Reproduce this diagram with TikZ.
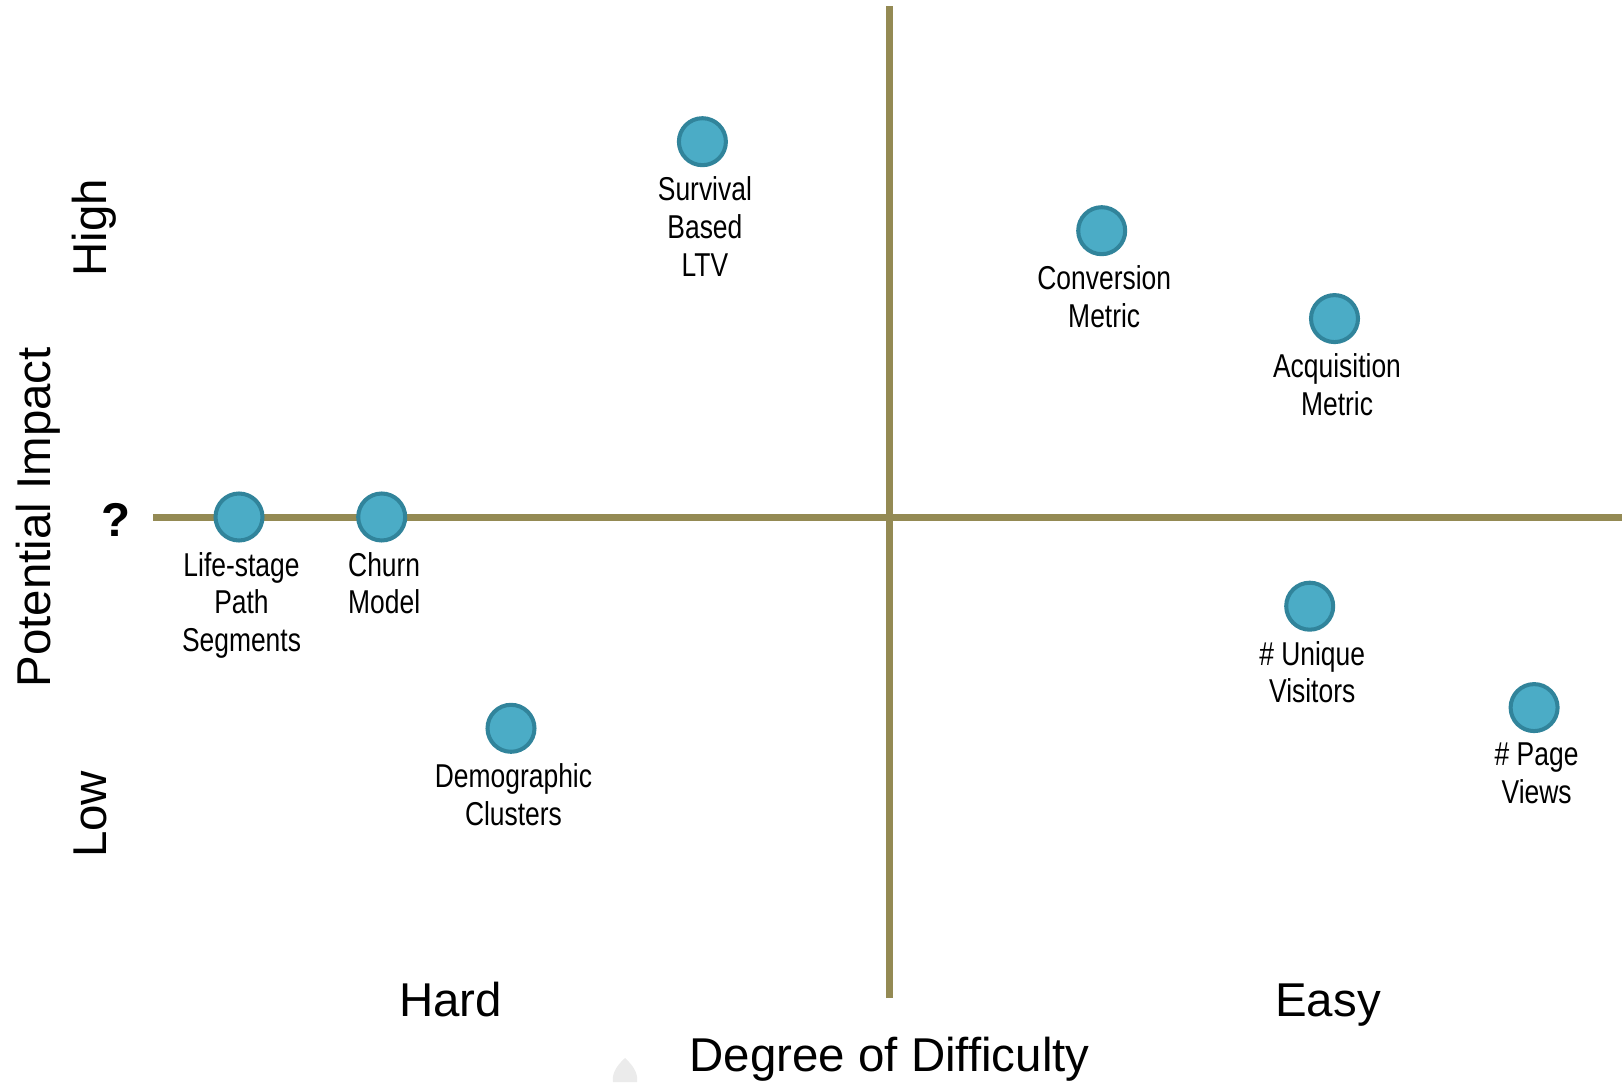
\documentclass[tikz,border=0pt]{standalone}
\usepackage{fontspec}
\setmainfont{Liberation Sans}
\newfontfamily\narrowfont[FakeStretch=0.8]{Liberation Sans}
\usetikzlibrary{positioning}

\definecolor{axisolive}{HTML}{948A54}
\definecolor{dotfill}{HTML}{4BACC6}
\definecolor{dotedge}{HTML}{31849B}

\begin{document}
\begin{tikzpicture}[
        axisline/.style={draw=axisolive, line width=2pt},
        item/.style={circle, draw=dotedge, fill=dotfill, line width=1.15pt, minimum size=0.47cm, inner sep=0pt},
        itemlabel/.style={inner sep=0pt, align=center, xshift=0.025cm, font=\narrowfont\fontsize{9.4pt}{10.7pt}\selectfont},
        axistitle/.style={inner sep=0pt, anchor=base, font=\fontsize{13.5pt}{16pt}\selectfont}
    ]
        \useasboundingbox (0,0) rectangle (16.22,10.82);
        % quadrant axes
        \draw[axisline] (8.895,0.84) -- (8.895,10.76);
        \draw[axisline] (1.53,5.645) -- (16.22,5.645);
        % axis titles
        \node[axistitle] (xtitle) at (8.895,0.11) {Degree of Difficulty};
        \node[axistitle] (hard) at (4.505,0.66) {Hard};
        \node[axistitle] (easy) at (13.28,0.66) {Easy};
        \node[axistitle, rotate=90] (ytitle) at (0.50,5.647) {Potential Impact};
        \node[axistitle, rotate=90] (high) at (1.067,8.545) {High};
        \node[axistitle, rotate=90] (low) at (1.067,2.677) {Low};
        \node[axistitle, font=\bfseries\fontsize{13.5pt}{16pt}\selectfont] (unknown) at (1.155,5.45) {?};
        % faint mark at the bottom
        \fill[black!8] (6.25,0.24) .. controls (6.36,0.14) and (6.38,0.06) .. (6.37,0) -- (6.13,0) .. controls (6.12,0.06) and (6.14,0.14) .. (6.25,0.24);
        % items
        \node[item] (surv) at (7.024,9.403) {};
        \node[item] (conv) at (11.017,8.513) {};
        \node[item] (acq) at (13.345,7.634) {};
        \node[item] (life) at (2.39,5.65) {};
        \node[item] (churn) at (3.817,5.65) {};
        \node[item] (demo) at (5.11,3.537) {};
        \node[item] (uniq) at (13.097,4.758) {};
        \node[item] (page) at (15.341,3.744) {};
        \node[itemlabel, below=0.09cm of surv] (surv-l) {Survival\\Based\\LTV};
        \node[itemlabel, below=0.09cm of conv] (conv-l) {Conversion\\Metric};
        \node[itemlabel, below=0.09cm of acq] (acq-l) {Acquisition\\Metric};
        \node[itemlabel, below=0.09cm of life] (life-l) {Life-stage\\Path\\Segments};
        \node[itemlabel, below=0.09cm of churn] (churn-l) {Churn\\Model};
        \node[itemlabel, below=0.09cm of demo] (demo-l) {Demographic\\Clusters};
        \node[itemlabel, below=0.09cm of uniq] (uniq-l) {\# Unique\\Visitors};
        \node[itemlabel, below=0.09cm of page] (page-l) {\# Page\\Views};
    \end{tikzpicture}
\end{document}
